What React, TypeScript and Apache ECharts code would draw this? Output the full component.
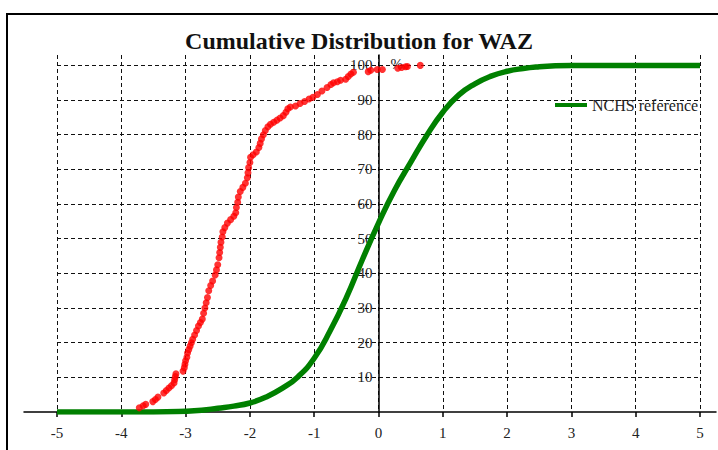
import React, { useEffect, useRef } from "react";
import * as echarts from "echarts";

const titleText = "Cumulative Distribution for WAZ";
const legendName = "NCHS reference";
const xTicks = [-5, -4, -3, -2, -1, 0, 1, 2, 3, 4, 5];
const yTicks = [10, 20, 30, 40, 50, 60, 70, 80, 90, 100];

// NCHS reference curve
const zRef = [-5, -3.5, -3, -2.75, -2.5, -2.25, -2, -1.75, -1.5, -1.25, -1, -0.75, -0.5, -0.25, 0, 0.25, 0.5, 0.75, 1, 1.25, 1.5, 1.75, 2, 2.25, 2.5, 2.75, 3, 4, 5];
const pctRef = [0, 0, 0.2, 0.5, 1.1, 1.7, 2.6, 4.3, 6.8, 10.2, 15.5, 23.5, 33, 44, 54.5, 64, 72, 79.8, 86.5, 91.5, 94.7, 96.9, 98.3, 99.1, 99.6, 99.9, 100, 100, 100];

// Sample cumulative distribution (red dots)
const zSample = [
  -3.72, -3.66, -3.62, -3.51, -3.47, -3.43, -3.34, -3.3, -3.26, -3.22, -3.18, -3.17, -3.16, -3.15,
  -3.04, -3.02, -3.01, -3.0, -2.98, -2.97, -2.95, -2.93, -2.91, -2.89, -2.86, -2.83, -2.8, -2.77, -2.74,
  -2.72, -2.7, -2.68, -2.66, -2.64, -2.61, -2.58, -2.54, -2.52, -2.5, -2.48, -2.47, -2.46, -2.45, -2.43,
  -2.42, -2.39, -2.35, -2.3, -2.25, -2.22, -2.21, -2.19, -2.18, -2.15, -2.11, -2.07, -2.04, -2.03, -2.02,
  -2.0, -1.99, -1.95, -1.9, -1.86, -1.84, -1.82, -1.79, -1.76, -1.72, -1.68, -1.63, -1.58, -1.53, -1.48,
  -1.44, -1.41, -1.37, -1.29, -1.22, -1.15, -1.08, -1.02, -0.95, -0.88, -0.8, -0.74, -0.7, -0.64, -0.59,
  -0.51, -0.47, -0.43, -0.39, -0.16, -0.12, -0.02, 0.06, 0.3, 0.36, 0.42, 0.45, 0.65,
];
const pctSample = [
  1.2, 1.8, 2.2, 3.0, 3.6, 4.3, 5.5, 6.2, 6.9, 7.6, 8.4, 9.3, 10.2, 11.0,
  11.8, 12.8, 13.8, 14.8, 15.8, 17.0, 18.0, 19.0, 20.0, 21.0, 22.2, 23.5, 24.8, 25.8, 26.8,
  28.5, 30, 31.5, 33, 35, 36.5, 37.8, 39.5, 41, 42.5, 44.5, 46, 47.5, 49, 50.5,
  52, 53.2, 54.5, 55.5, 56.5, 57.5, 59, 60.5, 62, 63.6, 64.8, 66, 67.6, 69, 70.5,
  72, 73.5, 74.2, 75, 76.3, 77.5, 78.8, 80, 81.2, 82.3, 83, 83.6, 84.2, 84.8, 85.5,
  86.5, 87.5, 88, 88.3, 89, 89.6, 90.3, 90.8, 91.6, 92.6, 93.6, 94.5, 95, 95.3, 95.7,
  96, 96.8, 97.5, 98, 98.2, 98.6, 98.8, 98.8, 99.2, 99.4, 99.6, 99.7, 100,
];

const serif = "'Liberation Serif', 'DejaVu Serif', serif";

export default function App() {
  const ref = useRef<HTMLDivElement>(null);
  useEffect(() => {
    if (!ref.current) return;
    const chart = echarts.init(ref.current, undefined, { renderer: "svg" });
    const refData = zRef.map((z, i) => [z, pctRef[i]]);
    const sampleData = zSample.map((z, i) => [z, pctSample[i]]);
    const gridLeft = 57;
    const gridRight = 18;
    const plotWidth = 718 - gridLeft - gridRight;
    // y axis sits at x = 0: shift it from the grid's left edge
    const yAxisOffset = -plotWidth * (0 - -5) / 10;
    chart.setOption({
      animation: false,
      backgroundColor: "#fff",
      title: {
        text: titleText,
        left: "center",
        top: 24,
        textStyle: { fontFamily: serif, fontSize: 24, fontWeight: "bold", color: "#111" },
      },
      legend: {
        data: [legendName],
        left: 555,
        top: 97,
        padding: 0,
        icon: "rect",
        itemWidth: 32,
        itemHeight: 4,
        textStyle: { fontFamily: serif, fontSize: 16, color: "#222" },
      },
      graphic: [
        {
          type: "rect",
          shape: { x: 7, y: 14, width: 800, height: 500 },
          style: { fill: "none", stroke: "#000", lineWidth: 2 },
          silent: true,
        },
      ],
      grid: [
        { left: gridLeft, right: gridRight, top: 55, bottom: 38, containLabel: false, outerBoundsMode: "none" },
        { left: 24, right: 2, top: 55, bottom: 38, containLabel: false, outerBoundsMode: "none" },
      ],
      xAxis: [
        {
          type: "value",
          gridIndex: 0,
          min: -5,
          max: 5,
          interval: 1,
          name: "z-score",
          nameLocation: "middle",
          nameGap: 31,
          nameTextStyle: { fontFamily: serif, fontSize: 15, color: "#222" },
          axisLine: { show: false },
          axisTick: { show: true, length: 5, lineStyle: { color: "#000", width: 1.5 } },
          axisLabel: { margin: 13, fontFamily: serif, fontSize: 15, color: "#222", customValues: xTicks },
          splitLine: { show: true, lineStyle: { color: "#111", width: 1, type: [4, 3] } },
        },
        {
          type: "value",
          gridIndex: 1,
          min: -5.5,
          max: 5.25,
          axisLine: { show: true, onZero: false, lineStyle: { color: "#000", width: 1.5 } },
          axisTick: { show: false },
          axisLabel: { show: false },
          splitLine: { show: false },
        },
      ],
      yAxis: [
        {
          type: "value",
          gridIndex: 0,
          min: 0,
          max: 103,
          offset: yAxisOffset,
          name: "%",
          nameLocation: "end",
          nameGap: -16,
          nameTextStyle: { fontFamily: serif, fontSize: 15, color: "#222", align: "left", padding: [0, 0, 0, 12] },
          axisLine: { show: true, onZero: false, lineStyle: { color: "#000", width: 1.5 } },
          axisTick: { show: false, customValues: yTicks },
          axisLabel: { margin: 6, fontFamily: serif, fontSize: 15, color: "#222", customValues: yTicks },
          splitLine: { show: true, lineStyle: { color: "#111", width: 1, type: [4, 3] } },
        },
        {
          type: "value",
          gridIndex: 1,
          min: 0,
          max: 103,
          show: false,
        },
      ],
      series: [
        {
          name: legendName,
          type: "line",
          xAxisIndex: 0,
          yAxisIndex: 0,
          data: refData,
          smooth: 0.5,
          symbol: "none",
          lineStyle: { color: "#008000", width: 5.5 },
          itemStyle: { color: "#008000" },
          z: 3,
        },
        {
          name: "sample",
          type: "scatter",
          xAxisIndex: 0,
          yAxisIndex: 0,
          data: sampleData,
          symbol: "circle",
          symbolSize: 7,
          itemStyle: { color: "#ff0000" },
          z: 4,
        },
      ],
    });
    return () => chart.dispose();
  }, []);
  return (
    <div
      ref={ref}
      style={{ position: "fixed", left: 0, top: 0, width: 718, height: 450 }}
    />
  );
}
